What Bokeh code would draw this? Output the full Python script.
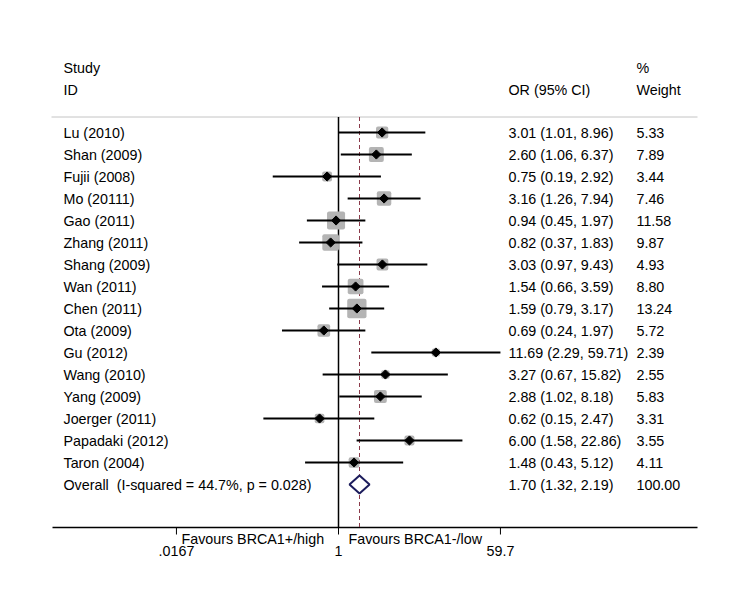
import numpy as np
from bokeh.plotting import figure
from bokeh.models import Range1d, ColumnDataSource
from bokeh.core.properties import value
from bokeh.embed import file_html
from bokeh.resources import INLINE

studies = ["Lu (2010)", "Shan (2009)", "Fujii (2008)", "Mo (20111)", "Gao (2011)",
           "Zhang (2011)", "Shang (2009)", "Wan (2011)", "Chen (2011)", "Ota (2009)",
           "Gu (2012)", "Wang (2010)", "Yang (2009)", "Joerger (2011)", "Papadaki (2012)",
           "Taron (2004)"]
or_vals = [3.01, 2.60, 0.75, 3.16, 0.94, 0.82, 3.03, 1.54, 1.59, 0.69, 11.69, 3.27, 2.88, 0.62, 6.00, 1.48]
ci_low = [1.01, 1.06, 0.19, 1.26, 0.45, 0.37, 0.97, 0.66, 0.79, 0.24, 2.29, 0.67, 1.02, 0.15, 1.58, 0.43]
ci_high = [8.96, 6.37, 2.92, 7.94, 1.97, 1.83, 9.43, 3.59, 3.17, 1.97, 59.71, 15.82, 8.18, 2.47, 22.86, 5.12]
weights = [5.33, 7.89, 3.44, 7.46, 11.58, 9.87, 4.93, 8.80, 13.24, 5.72, 2.39, 2.55, 5.83, 3.31, 3.55, 4.11]
overall_label = "Overall\u00a0\u00a0(I-squared = 44.7%, p = 0.028)"
overall_or, overall_lo, overall_hi, overall_w = 1.70, 1.32, 2.19, 100.00
axis_ticks = [0.0167, 1.0, 59.7]
axis_tick_labels = [".0167", "1", "59.7"]
favour_left = "Favours BRCA1+/high"
favour_right = "Favours BRCA1-/low"

W, H = 726, 589
K = 39.6          # px per ln unit
X1 = 338          # px of OR=1
ROW0 = 132        # px of first row
DY = 22.0

def xd(px):
    return (px - X1) / K

def yd(py):
    return (py - ROW0) / DY

p = figure(width=W, height=H, output_backend="svg", toolbar_location=None,
           x_range=Range1d(-X1 / K, (W - X1) / K),
           y_range=Range1d((H - ROW0) / DY, -ROW0 / DY),
           x_axis_location=None, y_axis_location=None, min_border=0)
p.outline_line_color = None
p.xgrid.visible = False
p.ygrid.visible = False
p.background_fill_color = "white"

FONT = value("Liberation Sans")
FS = "14.3px"

rows = list(range(len(studies)))
ov_row = len(studies)
lx = np.log(or_vals)
src = ColumnDataSource(dict(
    y=rows, x=lx, lo=np.log(ci_low), hi=np.log(ci_high),
    side=[5.3 * np.sqrt(w) for w in weights],
    name=studies,
    ci=[f"{o:.2f} ({a:.2f}, {b:.2f})" for o, a, b in zip(or_vals, ci_low, ci_high)],
    wt=[f"{w:.2f}" for w in weights],
))

y_head = yd(116.5)
y_axis = yd(527)
p.segment(x0=[xd(51)], x1=[xd(697)], y0=[y_head], y1=[y_head], line_color="#c4c4c4", line_width=1)
p.segment(x0=[xd(52)], x1=[xd(697)], y0=[y_axis], y1=[y_axis], line_color="black", line_width=1.5)

p.segment(x0=[0], x1=[0], y0=[y_head], y1=[y_axis], line_color="black", line_width=1.5)
p.segment(x0=[np.log(overall_or)], x1=[np.log(overall_or)], y0=[y_head], y1=[y_axis],
          line_color="#8b3a4a", line_width=1, line_dash="4 3")

p.rect(x="x", y="y", width="side", height="side", width_units="screen", height_units="screen",
       source=src, fill_color="#b4b4b4", line_color=None, border_radius=2)
p.segment(x0="lo", x1="hi", y0="y", y1="y", source=src, line_color="black", line_width=2)
p.scatter(x="x", y="y", source=src, marker="square", angle=np.pi / 4, size=6.5,
          fill_color="black", line_color="black")

dh = 9 / DY
p.patch(x=[np.log(overall_lo), np.log(overall_or), np.log(overall_hi), np.log(overall_or)],
        y=[ov_row, ov_row - dh, ov_row, ov_row + dh],
        fill_color="white", line_color="#1c1c5c", line_width=2)

p.text(x=xd(63), y="y", text="name", source=src, text_font=FONT, text_font_size=FS,
       text_baseline="middle", text_color="black")
p.text(x=xd(508), y="y", text="ci", source=src, text_font=FONT, text_font_size=FS,
       text_baseline="middle", text_color="black")
p.text(x=xd(636), y="y", text="wt", source=src, text_font=FONT, text_font_size=FS,
       text_baseline="middle", text_color="black")
p.text(x=[xd(63), xd(508), xd(636)], y=[ov_row] * 3,
       text=[overall_label, f"{overall_or:.2f} ({overall_lo:.2f}, {overall_hi:.2f})", f"{overall_w:.2f}"],
       text_font=FONT, text_font_size=FS, text_baseline="middle", text_color="black")

p.text(x=[xd(63), xd(63), xd(636), xd(636), xd(508)],
       y=[yd(67), yd(89), yd(67), yd(89), yd(89)],
       text=["Study", "ID", "%", "Weight", "OR (95% CI)"],
       text_font=FONT, text_font_size=FS, text_baseline="middle", text_color="black")

tx = np.log(axis_ticks)
p.segment(x0=tx, x1=tx, y0=[y_axis] * 3, y1=[yd(534)] * 3, line_color="black", line_width=1)
p.text(x=tx, y=[yd(550)] * 3, text=axis_tick_labels, text_font=FONT, text_font_size=FS,
       text_baseline="middle", text_align="center", text_color="black")
p.text(x=[xd(181), xd(348)], y=[yd(538)] * 2, text=[favour_left, favour_right],
       text_font=FONT, text_font_size=FS, text_baseline="middle", text_color="black")

open("out.html", "w").write(file_html(p, INLINE))
